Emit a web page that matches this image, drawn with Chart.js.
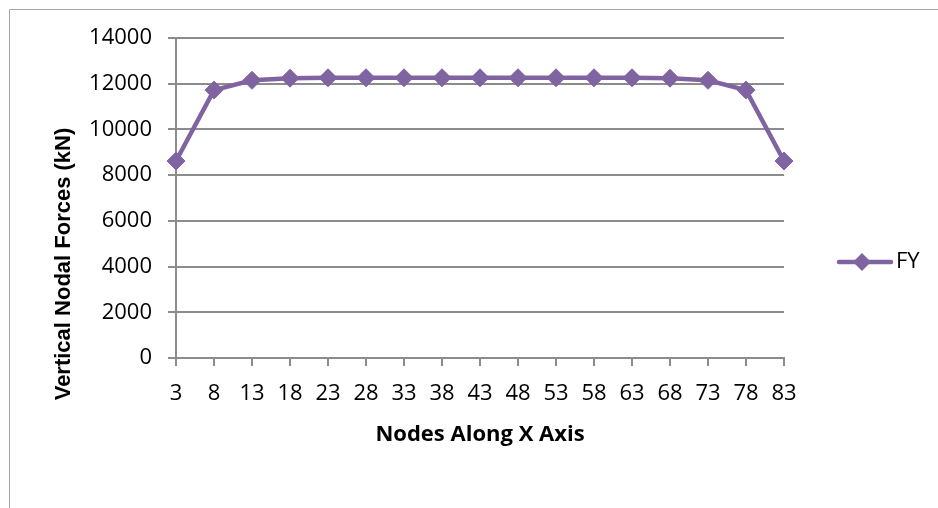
<!DOCTYPE html>
<html>
<head>
<meta charset="utf-8">
<script src="https://cdn.jsdelivr.net/npm/chart.js@4.4.1/dist/chart.umd.min.js"></script>
<style>
  html, body { margin: 0; padding: 0; background: #ffffff; }
  #wrap { width: 938px; height: 508px; position: relative; }
</style>
</head>
<body>
<div id="wrap"><canvas id="chart" width="938" height="508"></canvas></div>
<script>
// Node numbers along the X axis
const nodes = ['3', '8', '13', '18', '23', '28', '33', '38', '43', '48', '53', '58', '63', '68', '73', '78', '83'];
// Vertical nodal force FY at each node (kN)
const fy = [8620, 11720, 12150, 12240, 12260, 12260, 12260, 12260, 12260, 12260, 12260, 12260, 12260, 12240, 12150, 11720, 8620];
// Value axis ticks
const yTicks = [0, 2000, 4000, 6000, 8000, 10000, 12000, 14000];

const seriesName = 'FY';
const yTitle = 'Vertical Nodal Forces (kN)';
const xTitle = 'Nodes Along X Axis';

const purple = '#8064a2';
const gridGray = '#8c8c8c';
const tickFont = { family: "'Open Sans', sans-serif", size: 22 };

// Outer frame, rotated Y title and the side legend
const decorations = {
  id: 'decorations',
  beforeDraw(chart) {
    const ctx = chart.ctx;
    ctx.save();
    ctx.strokeStyle = '#a6a6a6';
    ctx.lineWidth = 1;
    ctx.beginPath();
    ctx.moveTo(9.5, chart.height + 2);
    ctx.lineTo(9.5, 9.5);
    ctx.lineTo(chart.width + 2, 9.5);
    ctx.stroke();
    ctx.restore();
  },
  afterDraw(chart) {
    const ctx = chart.ctx;
    // Y axis title
    ctx.save();
    ctx.translate(64, 264);
    ctx.rotate(-Math.PI / 2);
    ctx.font = "bold 22px 'Liberation Sans', Arial, sans-serif";
    ctx.fillStyle = '#000000';
    ctx.textAlign = 'center';
    ctx.textBaseline = 'middle';
    ctx.fillText(yTitle, 0, 0);
    ctx.restore();

    // Legend entry
    const ds = chart.data.datasets[0];
    const ly = 262;
    ctx.save();
    ctx.strokeStyle = ds.borderColor;
    ctx.lineWidth = 4.5;
    ctx.lineCap = 'round';
    ctx.beginPath();
    ctx.moveTo(839, ly);
    ctx.lineTo(891, ly);
    ctx.stroke();
    ctx.fillStyle = ds.pointBackgroundColor;
    ctx.beginPath();
    ctx.moveTo(862, ly - 9); ctx.lineTo(871, ly); ctx.lineTo(862, ly + 9); ctx.lineTo(853, ly);
    ctx.closePath();
    ctx.fill();
    ctx.font = `${tickFont.size}px ${tickFont.family}`;
    ctx.fillStyle = '#000000';
    ctx.textAlign = 'left';
    ctx.textBaseline = 'middle';
    ctx.fillText(ds.label, 896, ly);
    ctx.restore();
  }
};

new Chart(document.getElementById('chart'), {
  type: 'line',
  data: {
    labels: nodes,
    datasets: [{
      label: seriesName,
      data: fy,
      borderColor: purple,
      backgroundColor: purple,
      pointBackgroundColor: purple,
      pointBorderColor: purple,
      borderWidth: 4.5,
      pointStyle: 'rectRot',
      pointRadius: 9,
      pointHoverRadius: 9,
      pointBorderWidth: 1,
      tension: 0,
      fill: false
    }]
  },
  options: {
    responsive: false,
    animation: false,
    events: [],
    layout: { padding: { left: 0, top: 38, right: 154, bottom: 60 } },
    plugins: {
      legend: { display: false },
      tooltip: { enabled: false },
      title: { display: false }
    },
    scales: {
      x: {
        type: 'category',
        offset: false,
        border: { display: true, color: gridGray, width: 2 },
        grid: { drawOnChartArea: false, drawTicks: true, tickLength: 8, color: gridGray, lineWidth: 2 },
        ticks: { color: '#000000', font: tickFont, padding: 15, maxRotation: 0, autoSkip: false },
        title: {
          display: true,
          text: xTitle,
          color: '#000000',
          font: { family: "'Open Sans', sans-serif", size: 22, weight: 'bold' },
          padding: { top: 0, bottom: 0 }
        },
        afterFit(scale) { scale.height = 90; }
      },
      y: {
        min: 0,
        max: 14000,
        afterBuildTicks(scale) { scale.ticks = yTicks.map(v => ({ value: v })); },
        border: { display: true, color: gridGray, width: 2 },
        grid: { drawOnChartArea: true, drawTicks: true, tickLength: 8, color: gridGray, lineWidth: 2 },
        ticks: { color: '#000000', font: tickFont, padding: 16, callback: v => String(v) },
        afterFit(scale) { scale.width = 176; }
      }
    }
  },
  plugins: [decorations]
});
</script>
</body>
</html>
